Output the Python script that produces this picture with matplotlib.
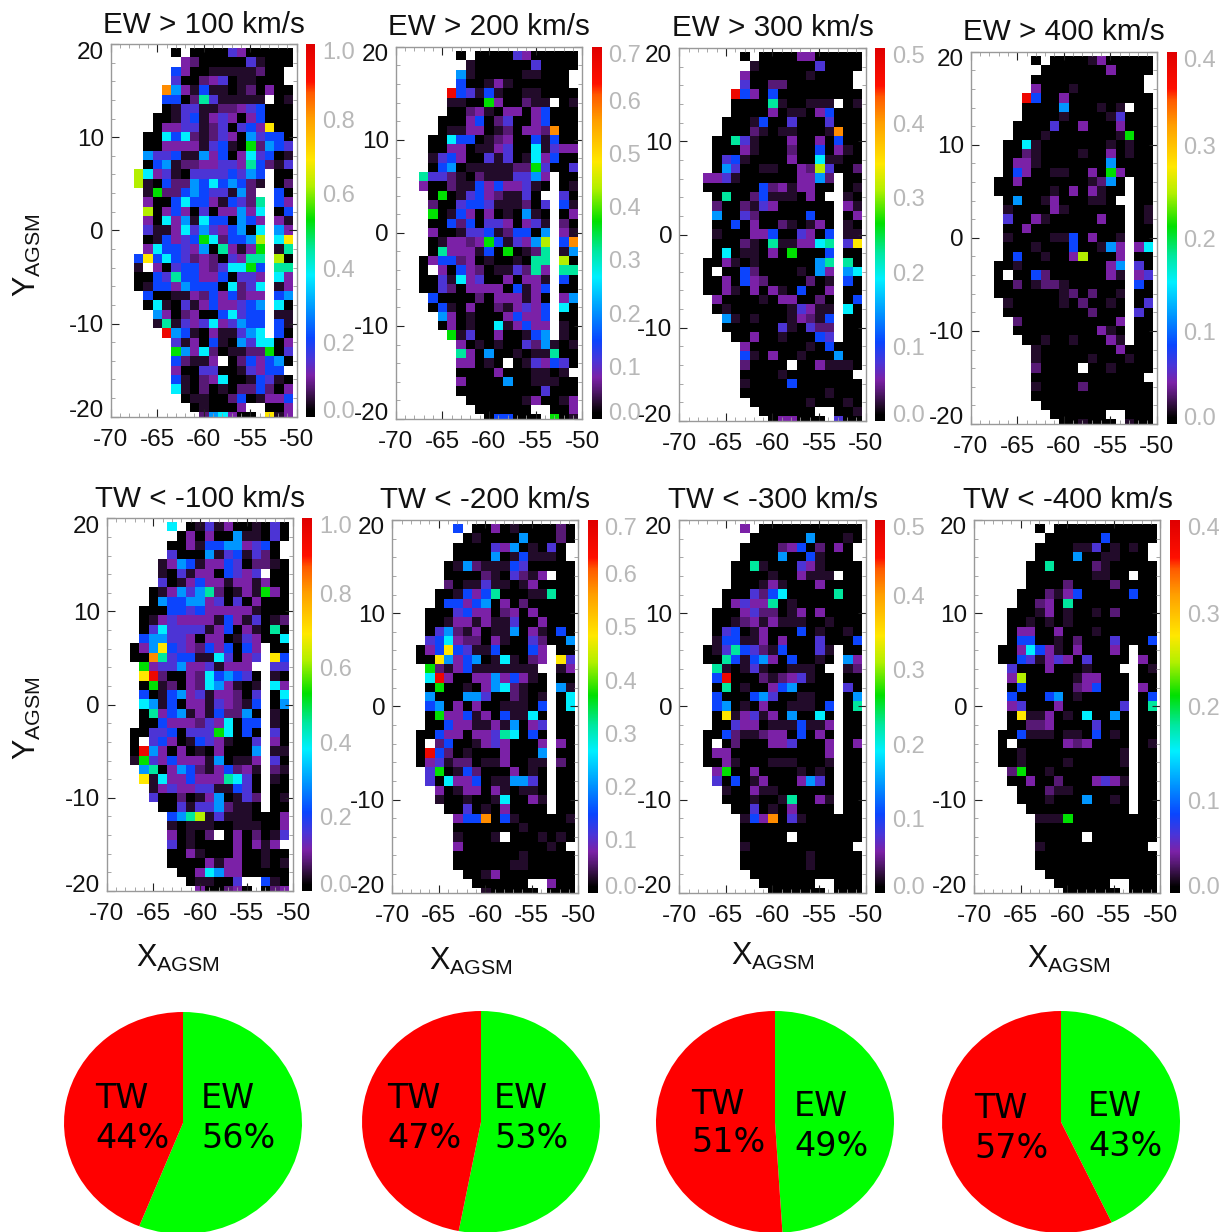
import numpy as np
import matplotlib
matplotlib.use('Agg')
import matplotlib.pyplot as plt
from matplotlib.colors import LinearSegmentedColormap, Normalize
from matplotlib.transforms import ScaledTranslation

plt.rcParams['font.family'] = 'Liberation Sans'
plt.rcParams['mathtext.fontset'] = 'custom'
plt.rcParams['mathtext.rm'] = 'Liberation Sans'
plt.rcParams['axes.unicode_minus'] = False

# occurrence maps, rows go from Y=19 down to Y=-20, columns X=-67 to X=-51
# one character per bin, see level_values, '.' is an empty bin
ew100 = [
    "....0.00004300000", ".....320000041000", "....530011111200.", "....400234011000.",
    "...c6315110120300", "...55028411111.01", "...01441122345000", "..001451343035000",
    "..033441240453b00", ".0075721243064550", ".0033331451092654", ".6445116350374501",
    ".0561223344385214", "a7341044445465.00", "a1052265756521.02", ".192256544162..50",
    ".3005755315428.53", ".a035304033637.05", ".3073617550653.31", ".4113746435607.63",
    ".015345972556a.7b", ".3755436083139.18", "5b575423204388.a0", "1.304553247795.88",
    "00548553350443.73", "01553655507247.13", ".5001132535233.56", ".0710413533456.70",
    "..630230057455.11", "..181434734655.51", "...d6510311467.50", "....4130510647703",
    "....9637201122904", "....52113.0253560", "....300440014355.", "....5102370015410",
    "....7102010225203", ".....011002501335", "......010003..003", ".......267300.b13",
]
ew200 = [
    "....0.00004300000", ".....100000040000", "....610000011000.", "....500131000000.",
    "...d5415100110000", "...11009300211.01", "...00231033035000", "..000350240035000",
    "..011330120332c00", ".0075501230051500", ".0033011340071433", ".1453004140173500",
    ".0560111112294004", "84421021114463.00", "30021153533410.01", ".090145321140..40",
    ".2004554111204.51", ".9015303010610.03", ".0052504430341.20", ".3001445125506.31",
    ".013323951436a.5c", ".0833315090128.16", "03552301001088.a0", "0.305320114283.88",
    "00417340030331.50", "00420333305135.00", ".5000020333130.36", ".0510300213435.70",
    "..630100035335.00", "..030100713533.10", "...91400300156.10", "....3010100426101",
    "....8306001011800", "....33010.0143540", "....000030001101.", "....3000060011100",
    "....0000000004000", ".....000000130013", "......000000..003", ".......055000.901",
]
ew300 = [
    "....0.00003300000", ".....100000040000", "....300000010000.", "....400220000000.",
    "...d5305000000000", "...00008100111.01", "...00003011035000", "..000150040004000",
    "..000210110001c00", ".0084100030030500", ".0003100020050310", ".0451000030071100",
    ".06400110032a4002", "33410000003362.00", "00000052313300.01", ".080025111030..10",
    ".2002143000000.31", ".6004200000500.03", ".0050300210130.10", ".1000335004305.11",
    ".0002108113378.4b", ".0701103090005.00", "00310100000068.80", "0.005200001063.67",
    "00305320000201.50", "00310303105003.00", ".3000010330020.05", ".0100000014311.70",
    "..610100013215.00", "..000000410422.00", "...00300100054.00", "....3000000105000",
    "....5103001000600", "....20000.0031110", "....000010000000.", "....1000050000000",
    "....0000000001000", ".....000000100010", "......000000..001", ".......033000.400",
]
ew400 = [
    "....0.00001300000", ".....000000030000", "....000000000000.", "....300010000000.",
    "...d5003000000000", "...00006000101.00", "...00001000014000", "..000040030003000",
    "..000100000001900", ".0071000000010100", ".0021000010030100", ".0331000000060000",
    ".0530011003093000", "00300000001260.00", "00000010303100.00", ".060013000110..00",
    ".1000031000000.01", ".4003100000300.01", ".0030000000000.00", ".1000011503001.00",
    ".0001000500163.37", ".05001003a0003.00", "00100000000036.40", "0.005200000031.34",
    "00201221000000.50", "00000001202001.00", ".1000001020010.04", ".0000000002000.40",
    "..200000000003.00", "..000000000310.00", "...00100100031.00", "....1000000003000",
    "....1000001000100", "....20000.0010000", "....000000000000.", "....1000020000000",
    "....0000000000000", ".....000000000000", "......000000..000", ".......001000.100",
]
tw100 = [
    "....7.01413001040", ".....030300611040", "....003155663450.", "....400061451420.",
    "...13651335402210", "...10413305434.00", "...40135331331300", "..013646820131930",
    "..065566340403000", ".0005545333331000", ".0134333315314012", ".0474444135031080",
    ".5664430330143007", "036b5432535053.00", "00c84551174034.b5", ".934463341333..44",
    ".bd20032756540.10", ".0912032763101.73", ".5015634133204.07", ".7615033143215.06",
    ".0835613152260.10", ".0053332437055.10", "00445044497050.40", "0.453015431004.30",
    "0d630301030006.11", "19435333160113.40", ".6803652135231.21", ".b173353338740.10",
    "..134334411540.00", "..400201360142.01", "...00414462110.00", "....568a141110003",
    "....1011100111003", "....30102.0302014", "....401000030313.", "....0031000300100",
    "....0000313300101", ".....003763300000", "......011004..510", ".......300230.023",
]
tw200 = [
    "....5.00301000020", ".....010000600020", "....000043601040.", "....000060151110.",
    "...01621115400000", "...00002104213.00", "...20114110130000", "..001535800011800",
    "..055356030200000", ".0004533023030000", ".0013313114003000", ".0462130116031050",
    ".4573220310042006", "035b5411500053.00", "00b63560171023.b4", ".921351111111..13",
    ".7d30033635310.00", ".0900103672100.61", ".6000664002101.07", ".5603030011105.07",
    ".0933513051170.00", ".0053311316034.00", "00533033487050.00", "0.250013430003.30",
    "0d520100030006.00", "03412201130011.20", ".4901520003010.00", ".4073350116640.00",
    "..301330310110.00", "..100100170031.00", "...00401030000.00", "....355c051000001",
    "....0000000100000", "....10001.0001010", "....300000000010.", "....0000000100000",
    "....0000001100000", ".....001300000000", "......000000..300", ".......100000.000",
]
tw300 = [
    "....3.00000000000", ".....000000600010", "....000023502030.", "....000060051000.",
    "...00810004310000", "...00001003111.00", "...00013100030000", "..000425700000800",
    "..034338010000000", ".0003422013030000", ".0012313111001000", ".0450130005010010",
    ".1551130300040005", "01485421500041.00", "00851563050010.63", ".810141001110..12",
    ".5d00021234100.00", ".0801003560000.40", ".5000564001100.06", ".5601030011105.08",
    ".0b13413060070.00", ".0043301115113.00", "00521123305030.00", "0.020003340003.03",
    "03300000000003.00", "00310001110001.00", ".3900300001010.00", ".4050130003640.00",
    "..100311000000.00", "..000100180031.00", "...00401030000.00", "....153c041000000",
    "....0000000000000", "....00000.0000000", "....100000000000.", "....0000000100000",
    "....0000000100000", ".....000000000000", "......000000..000", ".......000000.000",
]
tw400 = [
    "....0.00000000000", ".....000000500000", "....000011401010.", "....000060011000.",
    "...00800002100000", "...00000001100.00", "...00002000020000", "..000213500000500",
    "..002308000000000", ".0001301001020000", ".0010101000000000", ".0330030001000000",
    ".0550010200040005", "00375310300030.00", "00541343040000.30", ".400030001000..01",
    ".3a00000133000.00", ".0500000235000.30", ".5000560100000.05", ".3400030000004.08",
    ".0b11301070060.00", ".0022300004000.00", "00511101105010.00", "0.000003230000.01",
    "00100000000001.00", "00100001000001.00", ".2900100000000.00", ".0030020003431.00",
    "..000211000000.00", "..000100060010.00", "...00000000000.00", "....1119000000000",
    "....0000000000000", "....00000.0000000", "....100000000000.", "....0000000000000",
    "....0000000000000", ".....000000000000", "......000000..000", ".......000000.000",
]
level_values = dict(zip("0123456789abcd", [0, .04, .08, .11, .155, .21, .29, .38, .45, .53, .62, .69, .82, .95]))

titles = ['EW > 100 km/s', 'EW > 200 km/s', 'EW > 300 km/s', 'EW > 400 km/s',
          'TW < -100 km/s', 'TW < -200 km/s', 'TW < -300 km/s', 'TW < -400 km/s']
maps = [ew100, ew200, ew300, ew400, tw100, tw200, tw300, tw400]
vmaxes = [1.0, 0.7, 0.5, 0.4, 1.0, 0.7, 0.5, 0.4]
cbar_ticks = [[0, .2, .4, .6, .8, 1.0], [0, .1, .2, .3, .4, .5, .6, .7],
              [0, .1, .2, .3, .4, .5], [0, .1, .2, .3, .4]] * 2
ew_share = [56, 53, 49, 43]
tw_share = [44, 47, 51, 57]

# pixel layout of the reference: left, right, top, bottom, colorbar left, colorbar right
boxes = [(110.7, 296.7, 44, 416.7, 306, 315), (395.7, 582.3, 46.7, 419, 591.7, 601),
         (679.3, 865.7, 48, 421, 875.3, 885), (970.7, 1156.7, 51.7, 424, 1166.7, 1176),
         (106.7, 293.3, 518.3, 891, 302.3, 312), (392.3, 578.3, 520, 892.7, 587.7, 597.3),
         (679.3, 865.7, 520, 892.7, 875.3, 885), (974.3, 1160.3, 520, 892.7, 1170.3, 1180)]
title_pos = [(204, 25), (489, 27), (773, 28), (1064, 32), (200, 499), (485, 500), (773, 500), (1068, 500)]
pie_pos = [(183, 1123), (481, 1122), (775, 1122), (1061, 1122)]
ew_text = [(201, 1098, 1138), (494, 1099, 1139), (794, 1107, 1146), (1088, 1107, 1147)]
tw_text = [(95, 1098, 1138), (387, 1098, 1138), (691, 1104, 1143), (974, 1108, 1148)]
xlabel_pos = [(178, 958), (471, 961), (773, 956), (1069, 959)]

W, H = 1228, 1232
fig = plt.figure(figsize=(W / 100, H / 100), dpi=100, facecolor='white')


def add_box(x0, x1, top, bottom):
    return fig.add_axes([x0 / W, 1 - bottom / H, (x1 - x0) / W, (bottom - top) / H])


def put(x, y, s, **kw):
    fig.text(x / W, 1 - y / H, s, **kw)


cmap = LinearSegmentedColormap.from_list('rainbow_black', [
    (0, '#000000'), (.015, '#000000'), (.04, '#240c2c'), (.08, '#5a1a78'), (.11, '#7c22a8'), (.155, '#4a35d8'),
    (.21, '#0a45ff'), (.29, '#0096ff'), (.38, '#00f0ff'), (.45, '#00e8a0'), (.53, '#00e000'),
    (.62, '#b4f000'), (.69, '#ffe800'), (.80, '#ffa000'), (.87, '#ff5a00'), (.90, '#ff1000'),
    (1, '#e00000')], N=256)
cmap.set_bad('white')

for i in range(8):
    x0, x1, top, bottom, c0, c1 = boxes[i]
    vmax = vmaxes[i]
    grid = np.array([[np.nan if c == '.' else level_values[c] * vmax for c in row] for row in maps[i]])

    ax = add_box(x0, x1, top, bottom)
    # bins are centred on integer coordinates
    ax.imshow(grid, cmap=cmap, norm=Normalize(0, vmax), extent=(-67.5, -50.5, -20.5, 19.5),
              aspect='auto', interpolation='nearest', origin='upper')
    ax.set_xlim(-70, -50)
    ax.set_ylim(-20, 20)
    ax.set_xticks([-70, -65, -60, -55, -50])
    ax.set_xticks(np.arange(-70, -49), minor=True)
    ax.set_yticks([-20, -10, 0, 10, 20])
    ax.set_yticks(np.arange(-20, 21, 2), minor=True)
    ax.tick_params(which='major', direction='in', length=6, width=0.8, top=True, right=True,
                   color='#222222', labelsize=17.5, pad=9, labelcolor='#111111')
    ax.tick_params(which='minor', direction='in', length=3, width=0.6, top=True, right=True, color='#999999')
    ax.tick_params(axis='y', which='major', pad=5)
    # the end labels sit inside the axis range
    ylabs = ax.get_yticklabels()
    ylabs[0].set_transform(ylabs[0].get_transform() + ScaledTranslation(0, 8 / 100, fig.dpi_scale_trans))
    ylabs[-1].set_transform(ylabs[-1].get_transform() + ScaledTranslation(0, -6 / 100, fig.dpi_scale_trans))
    for s in ax.spines.values():
        s.set_color('#999999')
        s.set_linewidth(1.0)

    cax = add_box(c0, c1, top, bottom)
    cax.imshow(np.linspace(1, 0, 256)[:, None], cmap=cmap, vmin=0, vmax=1, aspect='auto')
    cax.axis('off')
    for v in cbar_ticks[i]:
        y = bottom - (bottom - top) * v / vmax + 3
        if v == 0:
            y = bottom - 5
        elif v == cbar_ticks[i][-1]:
            y = top + 9
        put(c1 + 7, y, f'{v:.1f}', fontsize=17, color='#b8b8b8', va='center', ha='left')

    put(title_pos[i][0], title_pos[i][1], titles[i], fontsize=21.3, ha='center', va='center', color='#111111')

for y in (255, 718):
    put(27, y, r'$\mathregular{Y_{AGSM}}$', fontsize=22, rotation=90, ha='center', va='center', color='#111111')

for i in range(4):
    cx, cy = pie_pos[i]
    rx, ry = 119, 111
    ax = add_box(cx - rx, cx + rx, cy - ry, cy + ry)
    ax.pie([ew_share[i], tw_share[i]], colors=['#00ff00', '#ff0000'], startangle=90, counterclock=False,
           radius=1, center=(0, 0), frame=False)
    ax.set_aspect('auto')
    ax.set_xlim(-1, 1)
    ax.set_ylim(-1, 1)
    ax.patch.set_visible(False)

    put(xlabel_pos[i][0], xlabel_pos[i][1], r'$\mathregular{X_{AGSM}}$', fontsize=22, ha='center', va='center', color='#111111')
    x, y1, y2 = tw_text[i]
    put(x, y1, 'TW', fontsize=24, family='DejaVu Sans', va='center', ha='left', zorder=5)
    put(x, y2, f'{tw_share[i]}%', fontsize=24, family='DejaVu Sans', va='center', ha='left', zorder=5)
    x, y1, y2 = ew_text[i]
    put(x, y1, 'EW', fontsize=24, family='DejaVu Sans', va='center', ha='left', zorder=5)
    put(x, y2, f'{ew_share[i]}%', fontsize=24, family='DejaVu Sans', va='center', ha='left', zorder=5)

fig.savefig('out.png', dpi=100)
